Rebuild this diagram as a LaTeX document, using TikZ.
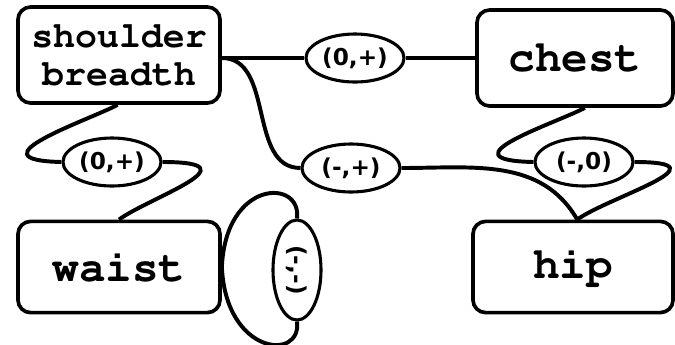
\documentclass[tikz,border=0pt]{standalone}
\usepackage[T1]{fontenc}
\usepackage{fontspec}
\newfontfamily\lblfont{DejaVu Sans}
\newcommand{\courierbold}{\fontencoding{T1}\fontfamily{pcr}\fontseries{b}\selectfont}
\usetikzlibrary{shapes.geometric,positioning}

\begin{document}
\begin{tikzpicture}[x=0.025cm, y=-0.025cm,
    part/.style={rectangle, draw, line width=2.6pt, rounded corners=9pt,
        minimum width=5.05cm, minimum height=2.3cm, inner sep=0pt,
        align=center, font=\courierbold\fontsize{26}{27}\selectfont},
    bigword/.style={font=\courierbold\fontsize{31.5}{32}\selectfont},
    sign/.style={ellipse, draw, line width=2.2pt, minimum width=2.45cm,
        minimum height=1.2cm, inner sep=0pt,
        font=\lblfont\bfseries\fontsize{16.5}{17}\selectfont},
    link/.style={line width=2.8pt}
]
    \useasboundingbox (0,0) rectangle (675,344);

    \node[part, minimum height=2.4cm] (sb) at (119,55) {shoulder\\breadth};
    \node[part, bigword, minimum width=4.9cm, minimum height=2.4cm] (chest) at (575,58) {chest};
    \node[part, bigword, minimum height=2.28cm] (waist) at (119,267) {waist};
    \node[part, bigword, minimum width=5cm, minimum height=2.28cm] (hip) at (573,267) {hip};

    \node[sign] (sbchest) at (355,58) {(0,+)};
    \node[sign] (sbhip) at (351,168) {(-,+)};
    \node[sign] (sbwaist) at (112,162) {(0,+)};
    \node[sign] (chesthip) at (584,162) {(-,0)};
    \node[sign, minimum width=1.2cm, minimum height=2.5cm] (waistself) at (297,270)
        {\rotatebox{-90}{(-,-)}};

    % shoulder breadth -- chest
    \draw[link] (sb.east |- sbchest.west) -- (sbchest.west);
    \draw[link] (sbchest.east) -- (chest.west |- sbchest.east);
    % shoulder breadth -- hip
    \draw[link] (sb.east |- sbchest.west) to[out=0, in=180] (sbhip.west);
    \draw[link] (sbhip.east) to[out=0, in=120] ([xshift=3]hip.north);
    % shoulder breadth -- waist
    \draw[link] ([xshift=-1]sb.south) .. controls +(-28,15) and +(-93,-2) .. (sbwaist.west);
    \draw[link] (sbwaist.east) .. controls +(95,0) and +(30,-22) .. (waist.north);
    % chest -- hip
    \draw[link] ([xshift=7]chest.south) .. controls +(-28,15) and +(-93,-2) .. (chesthip.west);
    \draw[link] (chesthip.east) .. controls +(95,0) and +(30,-22) .. ([xshift=3]hip.north);
    % waist -- waist
    \draw[link] (waist.east) .. controls +(4,-88) and +(5,-40) .. (waistself.north);
    \draw[link] (waistself.south) .. controls +(5,40) and +(4,88) .. (waist.east);
\end{tikzpicture}
\end{document}
